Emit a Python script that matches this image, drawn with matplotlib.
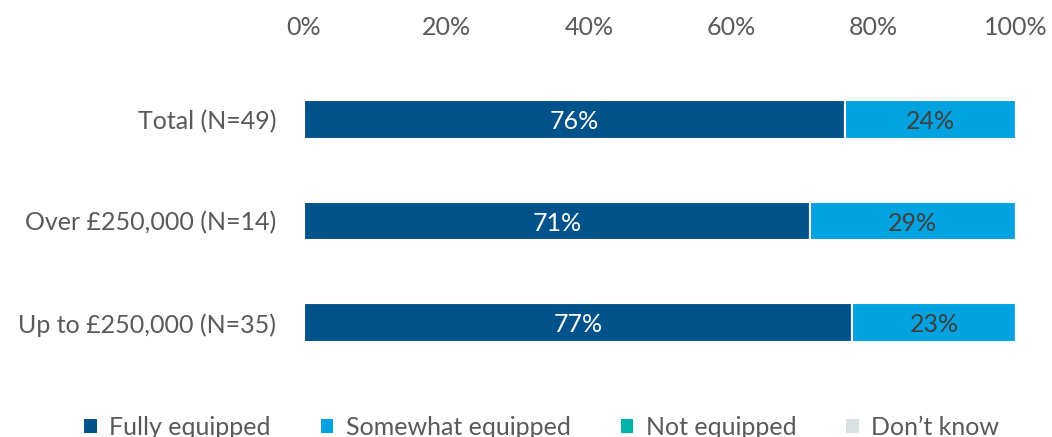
import matplotlib
matplotlib.use("Agg")
import matplotlib.pyplot as plt
from matplotlib.patches import Patch

plt.rcParams['font.family'] = ['Lato', 'DejaVu Sans']

categories = ["Total (N=49)", "Over £250,000 (N=14)", "Up to £250,000 (N=35)"]
series_names = ["Fully equipped", "Somewhat equipped", "Not equipped", "Don\u2019t know"]
fully = [76, 71, 77]
somewhat = [24, 29, 23]
not_equipped = [0, 0, 0]
dont_know = [0, 0, 0]
tick_values = [0, 20, 40, 60, 80, 100]
tick_labels = ["0%", "20%", "40%", "60%", "80%", "100%"]

colors = ["#00538A", "#00A3E0", "#00B2A9", "#D9E1E2"]
label_colors = ["white", "#404040", "#404040", "#404040"]
FS = 18

fig = plt.figure(figsize=(10.52, 4.37), dpi=100)
ax = fig.add_axes([304 / 1052, 1 - 389 / 437, 712 / 1052, 336 / 437])

ypos = list(range(len(categories)))
left = [0.0] * len(categories)
for vals, col, lcol in zip([fully, somewhat, not_equipped, dont_know], colors, label_colors):
    bars = ax.barh(ypos, vals, left=left, height=0.38, color=col,
                   edgecolor="white", linewidth=1.5)
    for b, v, l in zip(bars, vals, left):
        if v > 0:
            ax.text(l + v / 2, b.get_y() + b.get_height() / 2 + 0.02, f"{v}%",
                    ha="center", va="center", color=lcol, fontsize=FS)
    left = [a + b for a, b in zip(left, vals)]

ax.set_xlim(0, 100)
ax.set_ylim(2.65, -0.65)
ax.set_yticks(ypos)
ax.set_yticklabels(categories, fontsize=FS, color="#595959")
ax.set_xticks(tick_values)
ax.set_xticklabels(tick_labels, fontsize=FS, color="#595959")
ax.xaxis.tick_top()
ax.tick_params(axis="both", length=0)
ax.tick_params(axis="x", pad=10)
ax.tick_params(axis="y", pad=20)
for s in ax.spines.values():
    s.set_visible(False)

handles = [Patch(facecolor=c, edgecolor="none") for c in colors]
fig.legend(handles, series_names, loc="lower center", ncol=4, frameon=False,
           bbox_to_anchor=(0.515, -0.055), fontsize=FS, labelcolor="#595959",
           handlelength=0.5, handleheight=0.5, handletextpad=0.5, columnspacing=2.0)

fig.savefig("out.png", dpi=100)
